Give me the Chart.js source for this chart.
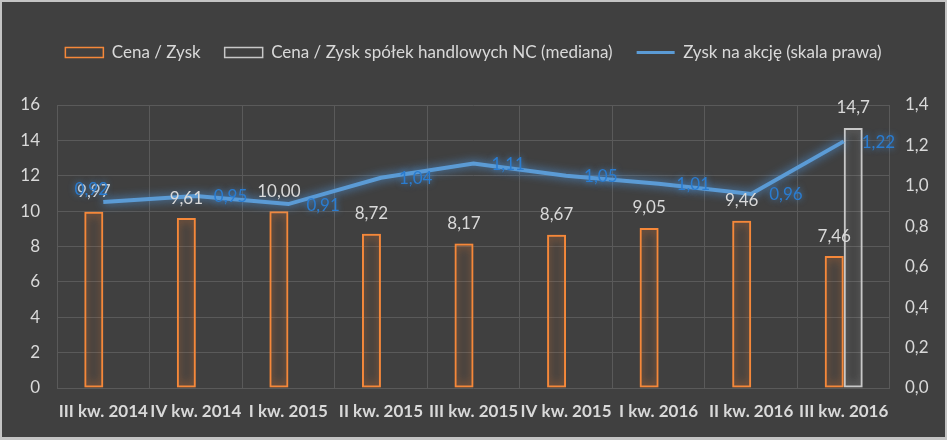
<!DOCTYPE html>
<html>
<head>
<meta charset="utf-8">
<script src="https://cdn.jsdelivr.net/npm/chart.js@4.4.1/dist/chart.umd.min.js"></script>
<style>
  html, body { margin: 0; padding: 0; background: #404040; }
  #wrap { width: 947px; height: 440px; }
</style>
</head>
<body>
<div id="wrap"><canvas id="chart" width="947" height="440"></canvas></div>
<script>
// dane z wykresu
const categories = ['III kw. 2014', 'IV kw. 2014', 'I kw. 2015', 'II kw. 2015', 'III kw. 2015',
                    'IV kw. 2015', 'I kw. 2016', 'II kw. 2016', 'III kw. 2016'];
const cenaZysk = [9.97, 9.61, 10.00, 8.72, 8.17, 8.67, 9.05, 9.46, 7.46];
const medianaNC = [null, null, null, null, null, null, null, null, 14.7];
const zyskNaAkcje = [0.92, 0.95, 0.91, 1.04, 1.11, 1.05, 1.01, 0.96, 1.22];

const textColor = '#d9d9d9';
const gridColor = '#5a5a5a';
const fmt = (v, d) => v.toFixed(d).replace('.', ',');

Chart.defaults.font.family = 'Lato, "Open Sans", sans-serif';
Chart.defaults.color = textColor;

// tlo i ramka
const background = {
  id: 'background',
  beforeDraw(chart) {
    const ctx = chart.ctx;
    ctx.save();
    ctx.fillStyle = '#404040';
    ctx.fillRect(0, 0, chart.width, chart.height);
    ctx.restore();
  },
  afterDraw(chart) {
    const ctx = chart.ctx;
    ctx.save();
    ctx.fillStyle = '#c4c4c4';
    ctx.fillRect(0, 0, chart.width, 2);
    ctx.fillRect(0, 0, 2, chart.height);
    ctx.fillRect(chart.width - 2, 0, 2, chart.height);
    ctx.fillRect(0, chart.height - 3, chart.width, 3);
    ctx.restore();
  }
};

// poswiata wokol slupkow i linii
const glow = {
  id: 'glow',
  beforeDatasetDraw(chart, args) {
    const ds = chart.data.datasets[args.index];
    const ctx = chart.ctx;
    ctx.save();
    ctx.shadowColor = ds.glowColor;
    ctx.shadowBlur = 10;
  },
  afterDatasetDraw(chart) {
    chart.ctx.restore();
  }
};

// etykiety danych
const dataLabels = {
  id: 'dataLabels',
  afterDatasetsDraw(chart) {
    const ctx = chart.ctx;
    ctx.save();
    ctx.font = '17px Lato, "Open Sans", sans-serif';
    ctx.textBaseline = 'middle';
    chart.data.datasets.forEach((ds, di) => {
      const meta = chart.getDatasetMeta(di);
      meta.data.forEach((el, i) => {
        const v = ds.data[i];
        if (v === null || v === undefined) return;
        if (ds.type === 'line') {
          ctx.fillStyle = '#2a7cd0';
          ctx.shadowColor = 'rgba(70,150,230,0.8)';
          ctx.shadowBlur = 6;
          if (i === 0) {
            ctx.textAlign = 'center';
            ctx.fillText(fmt(v, 2), el.x - 12, el.y - 13);
          } else {
            ctx.textAlign = 'left';
            ctx.fillText(fmt(v, 2), el.x + 18, el.y + 1);
          }
        } else {
          ctx.fillStyle = textColor;
          ctx.shadowBlur = 0;
          ctx.textAlign = 'center';
          ctx.fillText(fmt(v, ds.digits), el.x, el.y - 20);
        }
      });
    });
    ctx.restore();
  }
};

// legenda: wiecej miejsca pod nia
const legendSpace = {
  id: 'legendSpace',
  beforeInit(chart) {
    const fit = chart.legend.fit;
    chart.legend.fit = function () {
      fit.call(this);
      this.height = 85;
    };
  }
};

new Chart(document.getElementById('chart'), {
  type: 'bar',
  data: {
    labels: categories,
    datasets: [
      {
        label: 'Cena / Zysk',
        data: cenaZysk,
        backgroundColor: 'rgba(0,0,0,0)',
        borderColor: '#f5883a',
        borderWidth: 2,
        borderSkipped: false,
        glowColor: 'rgba(237,125,49,1)',
        digits: 2,
        yAxisID: 'y',
        order: 1
      },
      {
        label: 'Cena / Zysk spółek handlowych NC (mediana)',
        data: medianaNC,
        backgroundColor: 'rgba(0,0,0,0)',
        borderColor: '#c8c8c8',
        borderWidth: 2,
        borderSkipped: false,
        glowColor: 'rgba(220,220,220,0.6)',
        digits: 1,
        yAxisID: 'y',
        order: 1
      },
      {
        type: 'line',
        label: 'Zysk na akcję (skala prawa)',
        data: zyskNaAkcje,
        borderColor: '#5b9bd5',
        borderWidth: 4,
        pointRadius: 0,
        tension: 0,
        glowColor: 'rgba(80,160,240,0.9)',
        yAxisID: 'y1',
        order: 0
      }
    ]
  },
  options: {
    responsive: false,
    animation: false,
    layout: { padding: { top: 20, left: 0, right: 0, bottom: 0 } },
    datasets: {
      bar: { categoryPercentage: 0.41, barPercentage: 1.0 }
    },
    plugins: {
      tooltip: { enabled: false },
      legend: {
        position: 'top',
        labels: {
          usePointStyle: true,
          pointStyleWidth: 38,
          boxHeight: 10,
          padding: 24,
          color: textColor,
          font: { size: 17 },
          sort: (a, b) => a.datasetIndex - b.datasetIndex,
          generateLabels(chart) {
            const items = Chart.defaults.plugins.legend.labels.generateLabels(chart);
            items.forEach(it => {
              const ds = chart.data.datasets[it.datasetIndex];
              if (ds.type === 'line') {
                it.pointStyle = 'line';
                it.strokeStyle = ds.borderColor;
                it.lineWidth = 3;
              } else {
                it.pointStyle = 'rect';
                it.fillStyle = 'rgba(0,0,0,0)';
                it.strokeStyle = ds.borderColor;
                it.lineWidth = 1.5;
              }
            });
            return items;
          }
        }
      }
    },
    scales: {
      x: {
        grid: { color: gridColor, drawTicks: false, offset: true },
        border: { display: false },
        ticks: { color: textColor, font: { size: 17, weight: 'bold' }, padding: 13, maxRotation: 0, autoSkip: false },
        afterFit(s) { s.height = 52; }
      },
      y: {
        position: 'left',
        min: 0,
        max: 16,
        ticks: { stepSize: 2, color: textColor, font: { size: 17 }, padding: 17 },
        grid: { color: gridColor, drawTicks: false },
        border: { display: false },
        afterFit(s) { s.width = 57; }
      },
      y1: {
        position: 'right',
        min: 0,
        max: 1.4,
        ticks: { stepSize: 0.2, color: textColor, font: { size: 17 }, padding: 15,
                 callback: v => fmt(v, 1) },
        grid: { display: false, drawTicks: false },
        border: { display: false },
        afterFit(s) { s.width = 57; }
      }
    }
  },
  plugins: [background, glow, dataLabels, legendSpace]
});
</script>
</body>
</html>
